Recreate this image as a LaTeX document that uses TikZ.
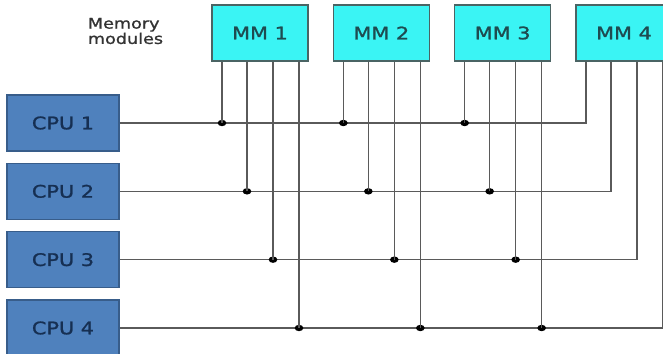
\documentclass[tikz,border=0pt]{standalone}
\usepackage{fontspec}
\newfontfamily\diagfont[FakeStretch=1.2,FakeBold=1.2]{DejaVu Sans}
\usetikzlibrary{chains,positioning,shapes.geometric}

\definecolor{cpufill}{HTML}{4F81BD}
\definecolor{cpuedge}{HTML}{385D8A}
\definecolor{cputext}{HTML}{162F52}
\definecolor{mmfill}{HTML}{3AF4F4}
\definecolor{mmedge}{HTML}{4A6464}
\definecolor{mmtext}{HTML}{1E4B50}
\definecolor{busline}{HTML}{5A5A5A}

\begin{document}
\begin{tikzpicture}[
  x=0.75pt,y=-0.75pt,
  node distance=8.25pt and 18pt,
  start chain=cpus going below,
  start chain=modules going right,
  cpubox/.style={draw=cpuedge,line width=1pt,fill=cpufill,text=cputext,
    minimum width=84pt,minimum height=42pt,font=\diagfont\fontsize{13}{15}\selectfont},
  mmbox/.style={draw=mmedge,line width=1pt,fill=mmfill,text=mmtext,
    minimum width=72pt,minimum height=42pt,font=\diagfont\fontsize{13}{15}\selectfont},
  note/.style={align=left,text=black!80,inner sep=0pt,
    font=\diagfont\fontsize{11}{11.5}\selectfont},
  bus/.style={draw=busline,line width=1.2pt},
  dot/.style={ellipse,fill=black,inner sep=0pt,minimum width=6.5pt,minimum height=4.8pt}
]
  \useasboundingbox (0,0) rectangle (663,353);

  \node[cpubox,on chain=cpus] (cpu1) at (63,123) {CPU 1};
  \node[cpubox,on chain=cpus] (cpu2) {CPU 2};
  \node[cpubox,on chain=cpus] (cpu3) {CPU 3};
  \node[cpubox,on chain=cpus] (cpu4) {CPU 4};

  \node[mmbox,on chain=modules] (mm1) at (260,33) {MM 1};
  \node[mmbox,on chain=modules] (mm2) {MM 2};
  \node[mmbox,on chain=modules] (mm3) {MM 3};
  \node[mmbox,on chain=modules] (mm4) {MM 4};

  \node[note,left=36pt of mm1,yshift=1.5pt] (memlabel) {Memory\\modules};

  % four legs under every module
  \foreach \m in {1,2,3,4}
    \foreach \c/\dx in {1/-28.5pt,2/-9.75pt,3/9.75pt,4/29.25pt}
      \coordinate (leg\m\c) at ([xshift=\dx]mm\m.south);

  % each cpu line runs to its leg of MM 4, taps the other modules
  \foreach \c in {1,2,3,4} {
    \draw[bus] (cpu\c.east) -- (cpu\c.east -| leg4\c) -- (leg4\c);
    \foreach \m in {1,2,3} {
      \node[dot] (tap\m\c) at (leg\m\c |- cpu\c.east) {};
      \draw[bus] (leg\m\c) -- (tap\m\c.center);
    }
  }
\end{tikzpicture}
\end{document}
